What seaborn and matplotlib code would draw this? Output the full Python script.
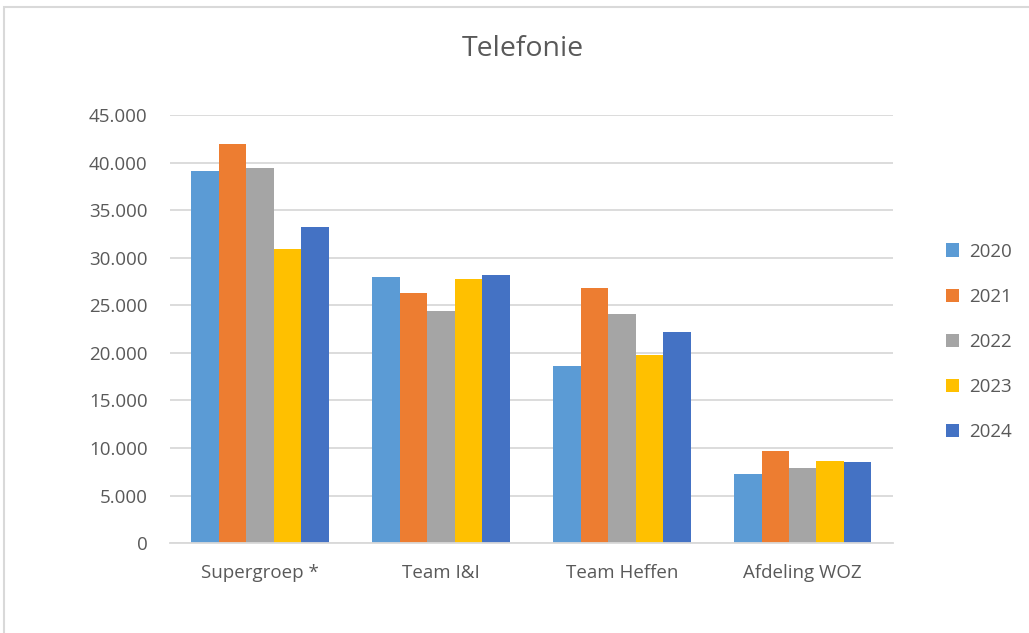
import pandas as pd
import seaborn as sns
import matplotlib as mpl
import matplotlib.pyplot as plt

# waarden
teams = ["Supergroep *", "Team I&I", "Team Heffen", "Afdeling WOZ"]
years = ["2020", "2021", "2022", "2023", "2024"]
v2020 = [39100, 28000, 18600, 7300]
v2021 = [42000, 26300, 26800, 9700]
v2022 = [39450, 24450, 24100, 7900]
v2023 = [30950, 27750, 19750, 8650]
v2024 = [33200, 28200, 22150, 8550]
colors = ["#5B9BD5", "#ED7D31", "#A5A5A5", "#FFC000", "#4472C4"]

series = [v2020, v2021, v2022, v2023, v2024]
df = pd.DataFrame([
    {"team": t, "year": y, "calls": vals[i]}
    for y, vals in zip(years, series)
    for i, t in enumerate(teams)
])

sns.set_style("white")
plt.rcParams['font.family'] = ['Open Sans', 'DejaVu Sans']

fig = plt.figure(figsize=(10.29, 6.33), dpi=100)
ax = fig.add_axes([0.165, 0.142, 0.703, 0.676])

sns.barplot(data=df, x="team", y="calls", hue="year", order=teams,
            hue_order=years, palette=colors, width=0.76, saturation=1,
            edgecolor="none", ax=ax)

ax.set_ylim(0, 45000)
ax.set_yticks(range(0, 45001, 5000))
ax.yaxis.set_major_formatter(mpl.ticker.FuncFormatter(
    lambda v, p: f"{int(v):,}".replace(",", ".")))
ax.set_xlabel("")
ax.set_ylabel("")
ax.grid(axis="y", color="#D9D9D9", linewidth=1.3)
ax.set_axisbelow(True)
for s in ["top", "right", "left"]:
    ax.spines[s].set_visible(False)
ax.spines["bottom"].set_color("#D9D9D9")
ax.spines["bottom"].set_linewidth(1.3)
ax.tick_params(axis="y", length=0, pad=16, labelsize=13.5, labelcolor="#595959")
ax.tick_params(axis="x", length=0, pad=15, labelsize=13.5, labelcolor="#595959")

fig.suptitle("Telefonie", x=0.508, y=0.945, fontsize=20.5, color="#595959")

leg = ax.legend(loc="center left", bbox_to_anchor=(1.05, 0.47), frameon=False,
                fontsize=13.5, labelspacing=1.45, handlelength=0.7,
                handleheight=0.7, handletextpad=0.5)
for t in leg.get_texts():
    t.set_color("#595959")

# rand om de grafiek
fig.patches.append(mpl.patches.Rectangle((0.004, -0.05), 1.1, 1.039,
                                         transform=fig.transFigure,
                                         fill=False, edgecolor="#D9D9D9",
                                         linewidth=1.5))

plt.savefig("out.png", dpi=100)
